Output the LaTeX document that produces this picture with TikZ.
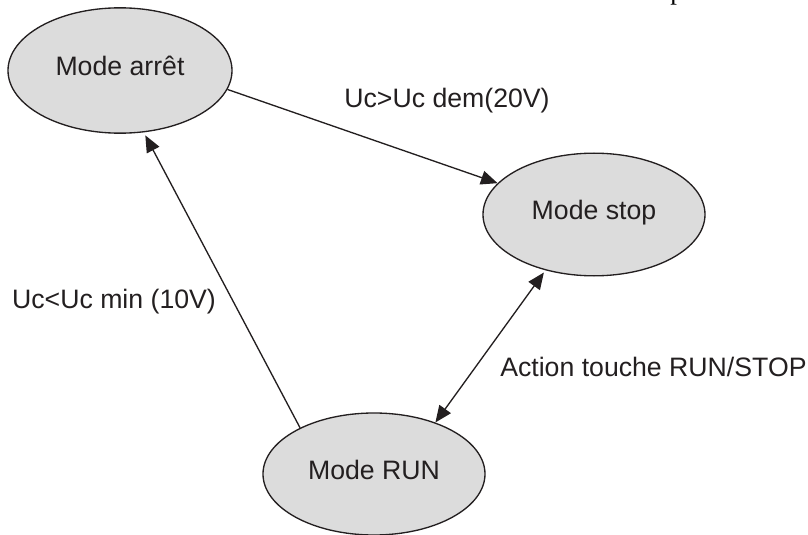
\documentclass[tikz,border=0pt]{standalone}
\usepackage{fontspec}
\setmainfont{Liberation Sans}
\newfontfamily\serifpart{Liberation Serif}
\usetikzlibrary{shapes.geometric,arrows.meta}
\definecolor{statefill}{RGB}{220,220,220}
\definecolor{ink}{RGB}{35,31,32}
\begin{document}
\begin{tikzpicture}[x=0.75pt,y=-0.75pt,
  every node/.style={font=\fontsize{20}{24}\selectfont, text=ink},
  state/.style={ellipse, draw=ink, line width=1pt, fill=statefill,
    inner sep=0pt, text height=8pt, text depth=0pt},
  label/.style={anchor=base, inner sep=0pt},
  tip/.tip={Triangle[length=12.5pt,width=10.5pt]},
  trans/.style={draw=ink, line width=1pt, -tip},
  both/.style={draw=ink, line width=1pt, tip-tip}]
\useasboundingbox (0,0) rectangle (808,535);

% states
\node[state, minimum width=168pt, minimum height=94pt] (arret) at (120,70.5) {Mode arrêt};
\node[state, minimum width=166.5pt, minimum height=92pt] (stop) at (594,214.5) {Mode stop};
\node[state, minimum width=166.5pt, minimum height=91.5pt] (run) at (374,474) {Mode RUN};

% transitions
\draw[trans] (arret.-10) -- (stop.162.3);
\draw[trans, shorten >=2.5pt] (run.148) -- (arret.-69);
\draw[both, shorten >=2pt] (run.40) -- (stop.-131);

% transition labels
\node[label] (lstart) at (447,108) {Uc>Uc dem(20V)};
\node[label] (lmin) at (114,308) {Uc<Uc min (10V)};
\node[label, anchor=base west] (ltouche) at (500,376) {Action touche RUN/STOP};

% fragment of a caption above the frame
\begin{scope}
\clip (0,0) rectangle (808,535);
\node[anchor=base west, inner sep=0pt, text=black, font=\serifpart\fontsize{20}{24}\selectfont] (frag) at (670,-0.5) {p};
\end{scope}
\end{tikzpicture}
\end{document}
